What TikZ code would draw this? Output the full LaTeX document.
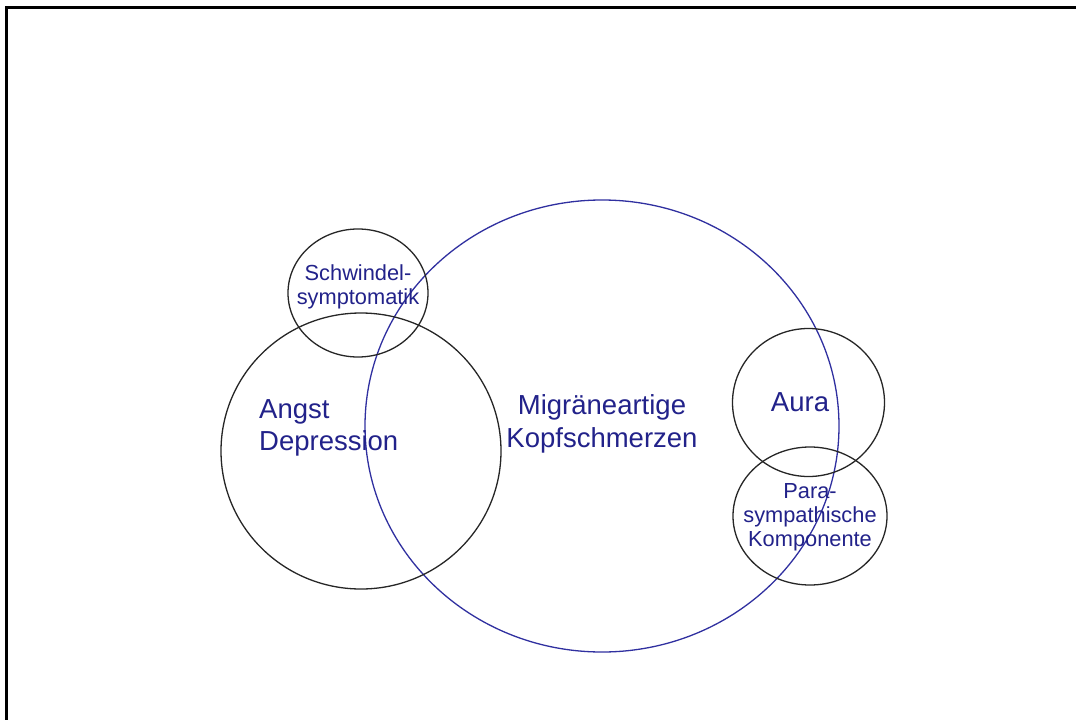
\documentclass[tikz,border=0pt]{standalone}
\usepackage{fontspec}
\setmainfont{Liberation Sans}
\definecolor{txtblue}{HTML}{22228A}
\definecolor{ringblue}{HTML}{3030A0}
\begin{document}
\begin{tikzpicture}[x=1pt,y=-1pt,
  ring/.style={draw=black!85,line width=1.3pt},
  bigring/.style={draw=ringblue,line width=1.3pt},
  lbl/.style={text=txtblue,inner sep=0pt,align=center},
  biglbl/.style={lbl,font=\fontsize{27.5}{32.5}\selectfont},
  smalllbl/.style={lbl,font=\fontsize{21.8}{23.8}\selectfont}]
\useasboundingbox (0,0) rectangle (1076,720);
\fill[white] (0,0) rectangle (1076,720);
\draw[line width=3pt] (6,722) -- (6,7) -- (1078,7);
% circles
\draw[bigring] (602,426) ellipse [x radius=237, y radius=226];
\draw[ring] (361,451) ellipse [x radius=140, y radius=138];
\draw[ring] (358,293) ellipse [x radius=70, y radius=64];
\draw[ring] (808.5,402.5) ellipse [x radius=76, y radius=74];
\draw[ring] (810,516) ellipse [x radius=77, y radius=69];
% labels
\node[smalllbl] (schw) at (358,287) {Schwindel-\\symptomatik};
\node[biglbl,align=left,anchor=west] (angst) at (259,428) {Angst\\Depression};
\node[biglbl] (migr) at (602,424) {Migräneartige\\Kopfschmerzen};
\node[biglbl] (aura) at (800,402) {Aura};
\node[smalllbl] (para) at (810,517) {Para-\\sympathische\\Komponente};
\end{tikzpicture}
\end{document}
